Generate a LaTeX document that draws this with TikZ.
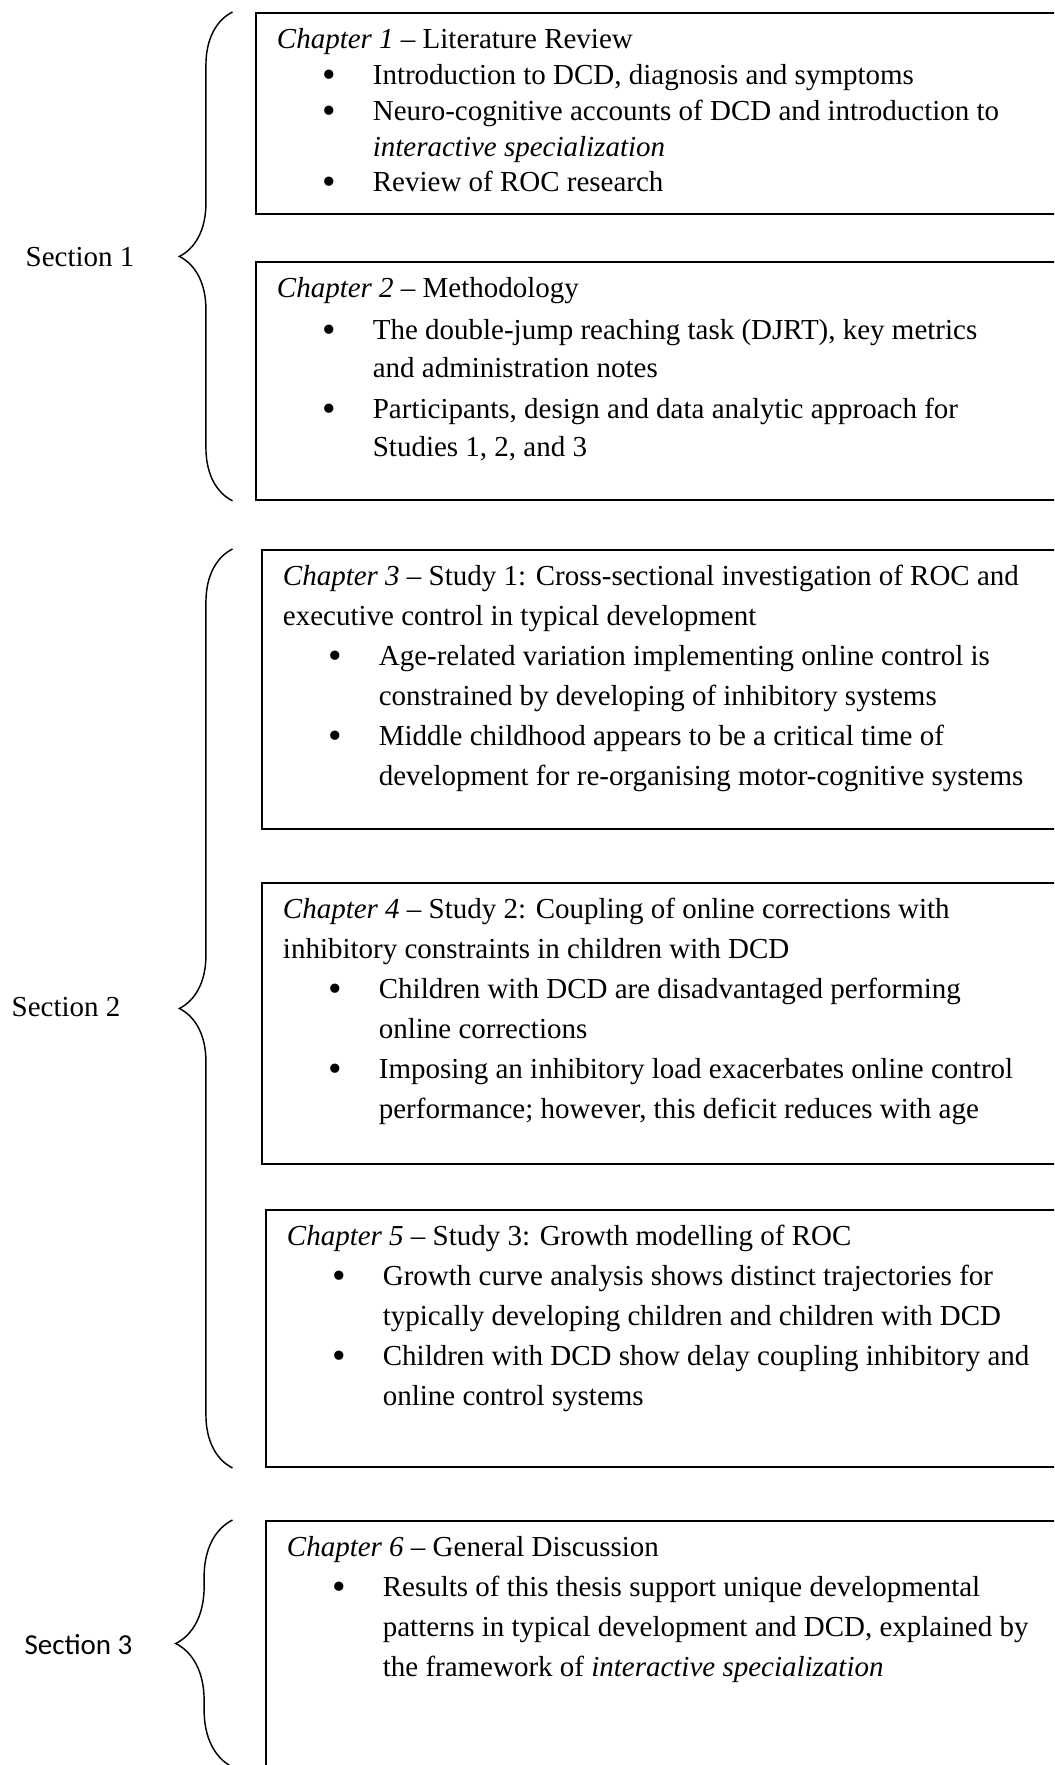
\documentclass[tikz,border=0pt]{standalone}
\usepackage{fontspec}
\setmainfont{Liberation Serif}
\newfontfamily\seclabelfont{Carlito}
\usetikzlibrary{decorations.pathreplacing}

\newcommand{\firstline}{\rule{0pt}{12.4pt}}
\newcommand{\bigdot}{\raisebox{-1.1pt}{\fontsize{16pt}{16pt}\selectfont\textbullet}}
\newcommand{\bitem}[1]{\par\leftskip=39.7pt\noindent\llap{\bigdot\hspace{15.4pt}}#1}
\newcommand{\chapbody}[3]{\parbox[c][#1][t]{330pt}{\raggedright\fontsize{12pt}{#2}\selectfont\firstline#3}}

\tikzset{
  chapbox/.style={draw, line width=0.8pt, anchor=north west, inner xsep=8.7pt, inner ysep=2.5pt},
  seclabel/.style={inner sep=0pt, font=\fontsize{12pt}{14pt}\selectfont},
  secbrace/.style={decorate, decoration={brace, amplitude=#1}, line width=0.6pt},
  secbrace/.default=22pt
}

\begin{document}
\begin{tikzpicture}[x=0.414pt,y=-0.414pt]
  \useasboundingbox (0,0) rectangle (1054,1765);
  \clip (0,0) rectangle (1054,1765);

  % section 1
  \node[chapbox] (ch1) at (255,12) {\chapbody{78.2pt}{14.8pt}{\textit{Chapter 1} – Literature Review
    \bitem{Introduction to DCD, diagnosis and symptoms}
    \bitem{Neuro-cognitive accounts of DCD and introduction to\newline \textit{interactive specialization}}
    \bitem{Review of ROC research}}};
  \node[chapbox] (ch2) at (255,261) {\chapbody{93.5pt}{15.6pt}{\setlength{\parskip}{1.6pt}\textit{Chapter 2} – Methodology
    \bitem{The double-jump reaching task (DJRT), key metrics\newline and administration notes}
    \bitem{Participants, design and data analytic approach for\newline Studies 1, 2, and 3}}};

  % section 2
  \node[chapbox] (ch3) at (261,549) {\chapbody{110.5pt}{16.56pt}{\textit{Chapter 3} – Study 1: Cross-sectional investigation of ROC and\newline executive control in typical development
    \bitem{Age-related variation implementing online control is\newline constrained by developing of inhibitory systems}
    \bitem{Middle childhood appears to be a critical time of\newline development for re-organising motor-cognitive systems}}};
  \node[chapbox] (ch4) at (261,882) {\chapbody{111.3pt}{16.56pt}{\textit{Chapter 4} – Study 2: Coupling of online corrections with\newline inhibitory constraints in children with DCD
    \bitem{Children with DCD are disadvantaged performing\newline online corrections}
    \bitem{Imposing an inhibitory load exacerbates online control\newline performance; however, this deficit reduces with age}}};
  \node[chapbox] (ch5) at (265,1209) {\chapbody{101.4pt}{16.56pt}{\textit{Chapter 5} – Study 3: Growth modelling of ROC
    \bitem{Growth curve analysis shows distinct trajectories for\newline typically developing children and children with DCD}
    \bitem{Children with DCD show delay coupling inhibitory and\newline online control systems}}};

  % section 3
  \node[chapbox] (ch6) at (265,1520) {\chapbody{119pt}{16.56pt}{\textit{Chapter 6} – General Discussion
    \bitem{Results of this thesis support unique developmental\newline patterns in typical development and DCD, explained by\newline the framework of \textit{interactive specialization}}}};

  % braces and labels
  \coordinate (bx) at (232.5,0);
  \coordinate (b3end) at (232.5,1767);
  \draw[secbrace] (bx |- ch2.south) -- (bx |- ch1.north);
  \draw[secbrace] (bx |- ch5.south) -- (bx |- ch3.north);
  \draw[secbrace=23.5pt] (b3end) -- (bx |- ch6.north);

  \node[seclabel] (sec1) at (80,257) {Section 1};
  \node[seclabel] (sec2) at (66,1007) {Section 2};
  \node[seclabel, font=\seclabelfont\fontsize{12pt}{14pt}\selectfont] (sec3) at (78.5,1645) {Section 3};
\end{tikzpicture}
\end{document}
